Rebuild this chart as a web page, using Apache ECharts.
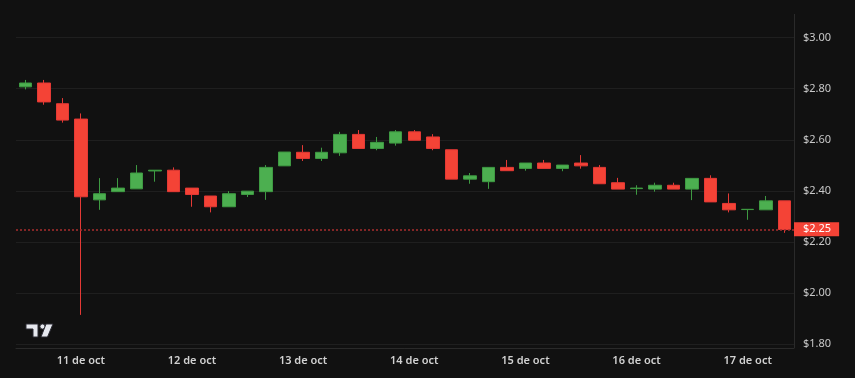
<!DOCTYPE html>
<html><head><meta charset="utf-8">
<script src="https://cdn.jsdelivr.net/npm/echarts@6/dist/echarts.min.js"></script>
<style>html,body{margin:0;padding:0;background:#111111;}#c{width:855px;height:378px;}</style>
</head><body><div id="c"></div>
<script>
// 4-hour candles starting 10 Oct 12:00
const startDay = 10, startHour = 12, stepHours = 4;
const openV  = [2.807,2.822,2.741,2.681,2.365,2.397,2.408,2.478,2.481,2.411,2.380,2.338,2.386,2.397,2.498,2.551,2.527,2.549,2.621,2.566,2.587,2.631,2.611,2.561,2.446,2.436,2.492,2.488,2.509,2.488,2.509,2.492,2.432,2.409,2.407,2.422,2.407,2.449,2.351,2.327,2.326,2.361];
const closeV = [2.822,2.748,2.677,2.377,2.389,2.411,2.470,2.481,2.397,2.386,2.338,2.389,2.399,2.492,2.552,2.527,2.551,2.621,2.566,2.590,2.631,2.598,2.566,2.446,2.459,2.492,2.479,2.509,2.488,2.501,2.498,2.428,2.407,2.411,2.422,2.407,2.449,2.357,2.326,2.328,2.361,2.249];
const lowV   = [2.797,2.737,2.667,1.915,2.326,2.397,2.408,2.436,2.397,2.338,2.316,2.338,2.376,2.365,2.498,2.517,2.517,2.537,2.566,2.559,2.577,2.598,2.559,2.446,2.428,2.408,2.479,2.479,2.488,2.477,2.487,2.428,2.407,2.385,2.397,2.407,2.364,2.357,2.316,2.287,2.326,2.236];
const highV  = [2.834,2.834,2.763,2.703,2.450,2.450,2.501,2.481,2.492,2.411,2.380,2.399,2.399,2.501,2.552,2.579,2.569,2.631,2.638,2.611,2.638,2.638,2.622,2.561,2.470,2.492,2.521,2.509,2.521,2.501,2.540,2.501,2.451,2.422,2.432,2.432,2.449,2.461,2.390,2.328,2.380,2.361];
const lastPrice = 2.25;
const yTicks = [1.80,2.00,2.20,2.40,2.60,2.80,3.00];

const categories = [], dayLabels = [];
for (let i = 0; i < openV.length; i++) {
  const totalH = startHour + i * stepHours;
  const d = startDay + Math.floor(totalH / 24), h = totalH % 24;
  categories.push(d + ' oct ' + String(h).padStart(2,'0') + ':00');
  dayLabels.push(h === 0 ? d + ' de oct' : '');
}
const ohlc = openV.map((o, i) => [o, closeV[i], lowV[i], highV[i]]);

const chart = echarts.init(document.getElementById('c'), null, {renderer:'canvas'});
chart.setOption({
  backgroundColor: '#111111',
  animation: false,
  grid: {left: 16, right: 61, top: 37.5, bottom: 33.7},
  xAxis: {
    type: 'category', data: categories, boundaryGap: true, offset: 4,
    axisLine: {show: true, lineStyle: {color: '#2a2a2a', width: 1}},
    axisTick: {show: false},
    splitLine: {show: false},
    axisLabel: {
      interval: (idx) => dayLabels[idx] !== '',
      formatter: (v, idx) => dayLabels[idx],
      color: '#d1d1d1', fontSize: 11, fontWeight: 600, fontFamily: 'Noto Sans', margin: 7
    }
  },
  yAxis: {
    type: 'value', position: 'right', min: yTicks[0], max: yTicks[yTicks.length-1], interval: 0.2,
    axisLine: {show: false}, axisTick: {show: false},
    splitLine: {show: true, lineStyle: {color: '#1f1f1f', width: 1}},
    axisLabel: {formatter: v => '$' + v.toFixed(2), color: '#c8c8c8', fontSize: 11, fontFamily: 'Noto Sans', margin: 9}
  },
  series: [{
    type: 'candlestick', data: ohlc, barWidth: 13,
    itemStyle: {
      color: '#4caf50', color0: '#f44336',
      borderColor: '#3e9a42', borderColor0: '#e53935',
      borderColorDoji: '#3e9a42', borderWidth: 1
    },
    markLine: {
      silent: true, symbol: ['none','none'],
      data: [{yAxis: lastPrice}],
      lineStyle: {color: '#a82e2e', type: [2,2], width: 1.5},
      label: {
        show: true, position: 'end', distance: 0,
        formatter: '$' + lastPrice.toFixed(2),
        color: '#ffffff', backgroundColor: '#f44336', fontSize: 11, fontFamily: 'Noto Sans',
        padding: [2, 8, 1, 9]
      }
    }
  }],
  graphic: [
    {type: 'line', shape: {x1: 794.5, y1: 14, x2: 794.5, y2: 348}, style: {stroke: '#2a2a2a', lineWidth: 1}, z: 1},
    {type: 'polygon', shape: {points: [[26,324],[38,324],[38,337],[33,337],[33,329],[26,329]]}, style: {fill: '#e6e8ee', stroke: '#2b2b33', lineWidth: 1}, z: 10},
    {type: 'circle', shape: {cx: 42.5, cy: 326.5, r: 2.6}, style: {fill: '#e6e8ee', stroke: '#2b2b33', lineWidth: 1}, z: 10},
    {type: 'polygon', shape: {points: [[46,324],[53,324],[47.5,337],[41,337]]}, style: {fill: '#e6e8ee', stroke: '#2b2b33', lineWidth: 1}, z: 10}
  ]
});
</script></body></html>
